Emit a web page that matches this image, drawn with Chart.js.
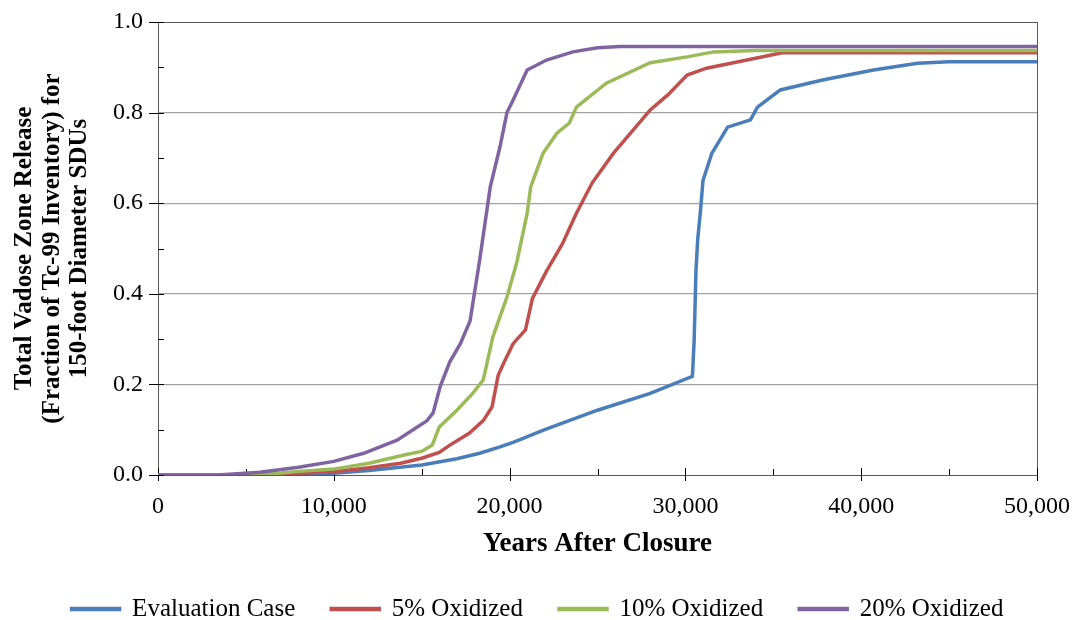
<!DOCTYPE html>
<html>
<head>
<meta charset="utf-8">
<title>Total Vadose Zone Release</title>
<script src="https://cdn.jsdelivr.net/npm/chart.js@4/dist/chart.umd.min.js"></script>
<style>
  html, body { margin: 0; padding: 0; background: #fff; }
  canvas { display: block; }
</style>
</head>
<body>
<canvas id="c" width="1075" height="620"></canvas>
<script>
// Cumulative Tc-99 release fraction vs. years after closure
const seriesNames = ['Evaluation Case', '5% Oxidized', '10% Oxidized', '20% Oxidized'];
const seriesColors = ['#4a7ebb', '#c0504d', '#9bbb59', '#8064a2'];

const evalYears = [0, 5000, 6500, 8000, 10000, 12000, 15000, 17000, 18300, 19450, 20200, 22000, 25000, 28000, 30400, 30500, 30600, 30700, 30850, 31000, 31500, 32400, 33700, 34100, 35400, 37800, 40700, 43200, 45000, 50000];
const evalFrac  = [0, 0, 0.001, 0.002, 0.004, 0.01, 0.022, 0.036, 0.048, 0.062, 0.072, 0.1, 0.143, 0.18, 0.218, 0.3, 0.45, 0.52, 0.58, 0.65, 0.71, 0.768, 0.784, 0.812, 0.85, 0.872, 0.894, 0.909, 0.912, 0.912];

const ox5Years = [0, 5800, 8000, 10000, 12000, 13800, 15000, 16000, 16600, 17700, 18500, 19000, 19350, 19700, 20200, 20900, 21300, 22100, 23000, 23800, 24700, 25900, 27000, 28000, 29000, 30100, 31200, 33500, 35500, 50000];
const ox5Frac  = [0, 0, 0.004, 0.007, 0.016, 0.026, 0.037, 0.05, 0.066, 0.092, 0.12, 0.15, 0.22, 0.25, 0.29, 0.32, 0.39, 0.45, 0.51, 0.578, 0.645, 0.71, 0.76, 0.806, 0.839, 0.883, 0.898, 0.916, 0.932, 0.932];

const ox10Years = [0, 5800, 8000, 10000, 12000, 14000, 15000, 15600, 16000, 17000, 17900, 18500, 19050, 19850, 20400, 21000, 21200, 21900, 22700, 23400, 23800, 25500, 28000, 30100, 31600, 34000, 50000];
const ox10Frac  = [0, 0, 0.008, 0.013, 0.026, 0.044, 0.052, 0.066, 0.106, 0.143, 0.18, 0.21, 0.305, 0.393, 0.468, 0.578, 0.636, 0.71, 0.755, 0.777, 0.812, 0.865, 0.91, 0.923, 0.934, 0.937, 0.937];

const ox20Years = [0, 3400, 5800, 8000, 10000, 11700, 13600, 15300, 15650, 16050, 16600, 17200, 17750, 18300, 18900, 19450, 19850, 20200, 21000, 22100, 23600, 25000, 26300, 50000];
const ox20Frac  = [0, 0, 0.006, 0.017, 0.03, 0.048, 0.077, 0.12, 0.137, 0.195, 0.25, 0.29, 0.34, 0.475, 0.636, 0.724, 0.8, 0.828, 0.894, 0.916, 0.934, 0.943, 0.946, 0.946];

const xTickStep = 10000;
const yTickStep = 0.2;

const seriesYears = [evalYears, ox5Years, ox10Years, ox20Years];
const seriesFrac = [evalFrac, ox5Frac, ox10Frac, ox20Frac];

const FONT = "'Liberation Serif', 'Times New Roman', serif";
Chart.defaults.font.family = FONT;
Chart.defaults.color = '#000';

// Frame around the plot area plus Excel-style cross/inside tick marks
const frameAndTicks = {
  id: 'frameAndTicks',
  beforeDatasetsDraw(chart) {
    const { ctx, chartArea: a, scales: { x, y } } = chart;
    ctx.save();
    ctx.lineWidth = 1;
    ctx.strokeStyle = '#595959';
    ctx.strokeRect(a.left + 0.5, a.top + 0.5, a.right - a.left, a.bottom - a.top);
    ctx.strokeStyle = '#000';
    ctx.beginPath();
    const yMajor = y.ticks.map(t => t.value);
    yMajor.forEach((v, i) => {
      const py = Math.round(y.getPixelForValue(v)) + 0.5;
      ctx.moveTo(a.left - 9, py); ctx.lineTo(a.left + 6, py);
      if (i < yMajor.length - 1) {
        const pm = Math.round(y.getPixelForValue((v + yMajor[i + 1]) / 2)) + 0.5;
        ctx.moveTo(a.left, pm); ctx.lineTo(a.left + 6, pm);
      }
    });
    const xMajor = x.ticks.map(t => t.value);
    xMajor.forEach((v, i) => {
      const px = Math.round(x.getPixelForValue(v)) + 0.5;
      ctx.moveTo(px, a.bottom - 7); ctx.lineTo(px, a.bottom + 6);
      if (i < xMajor.length - 1) {
        const pm = Math.round(x.getPixelForValue((v + xMajor[i + 1]) / 2)) + 0.5;
        ctx.moveTo(pm, a.bottom - 6); ctx.lineTo(pm, a.bottom);
      }
    });
    ctx.stroke();
    ctx.restore();
  }
};

// Let the layout padding alone decide where the plot area sits
function noScalePadding(s) {
  s.paddingTop = 0; s.paddingBottom = 0; s.paddingLeft = 0; s.paddingRight = 0;
}

const datasets = seriesNames.map((name, i) => ({
  label: name,
  data: seriesYears[i].map((yr, j) => ({ x: yr, y: seriesFrac[i][j] })),
  borderColor: seriesColors[i],
  backgroundColor: seriesColors[i],
  borderWidth: 3.5,
  pointRadius: 0,
  tension: 0,
  fill: false,
  order: seriesNames.length - i
}));

new Chart(document.getElementById('c'), {
  type: 'line',
  data: { datasets },
  plugins: [frameAndTicks],
  options: {
    responsive: false,
    animation: false,
    devicePixelRatio: 1,
    layout: { padding: { left: 0, right: 0, top: 22, bottom: -11.5 } },
    plugins: {
      tooltip: { enabled: false },
      legend: {
        position: 'bottom',
        reverse: true,
        labels: {
          boxWidth: 48,
          boxHeight: 1,
          padding: 36,
          color: '#000',
          font: { size: 25 }
        }
      }
    },
    scales: {
      x: {
        type: 'linear',
        min: 0,
        max: 50000,
        afterFit(s) { s.height = 85.5; noScalePadding(s); },
        grid: { display: false },
        border: { display: false },
        ticks: {
          stepSize: xTickStep,
          padding: 9,
          color: '#000',
          font: { size: 24 },
          maxRotation: 0,
          callback: v => v.toLocaleString('en-US')
        },
        title: {
          display: true,
          text: 'Years After Closure',
          color: '#000',
          font: { size: 27, weight: 'bold' },
          padding: { top: 0, bottom: 0 }
        }
      },
      y: {
        min: 0,
        max: 1,
        afterFit(s) { s.width = 158; noScalePadding(s); },
        grid: {
          drawTicks: false,
          color: ctx => (ctx.tick && (ctx.tick.value === 0 || ctx.tick.value === 1)) ? 'rgba(0,0,0,0)' : '#a3a3a3',
          lineWidth: 1.3
        },
        border: { display: false },
        ticks: {
          stepSize: yTickStep,
          padding: 15,
          color: '#000',
          font: { size: 24 },
          callback: v => v.toFixed(1)
        },
        title: {
          display: true,
          text: ['Total Vadose Zone Release', '(Fraction of Tc-99 Inventory) for', '150-foot Diameter SDUs'],
          color: '#000',
          font: { size: 25, weight: 'bold', lineHeight: 1.1 },
          padding: { top: 11, bottom: 0 }
        }
      },
      // empty right-hand margin box keeping room for the last x label
      yRight: {
        type: 'linear',
        position: 'right',
        afterFit(s) { s.width = 38; noScalePadding(s); },
        grid: { display: false },
        border: { display: false },
        ticks: { display: false }
      }
    }
  }
});
</script>
</body>
</html>
